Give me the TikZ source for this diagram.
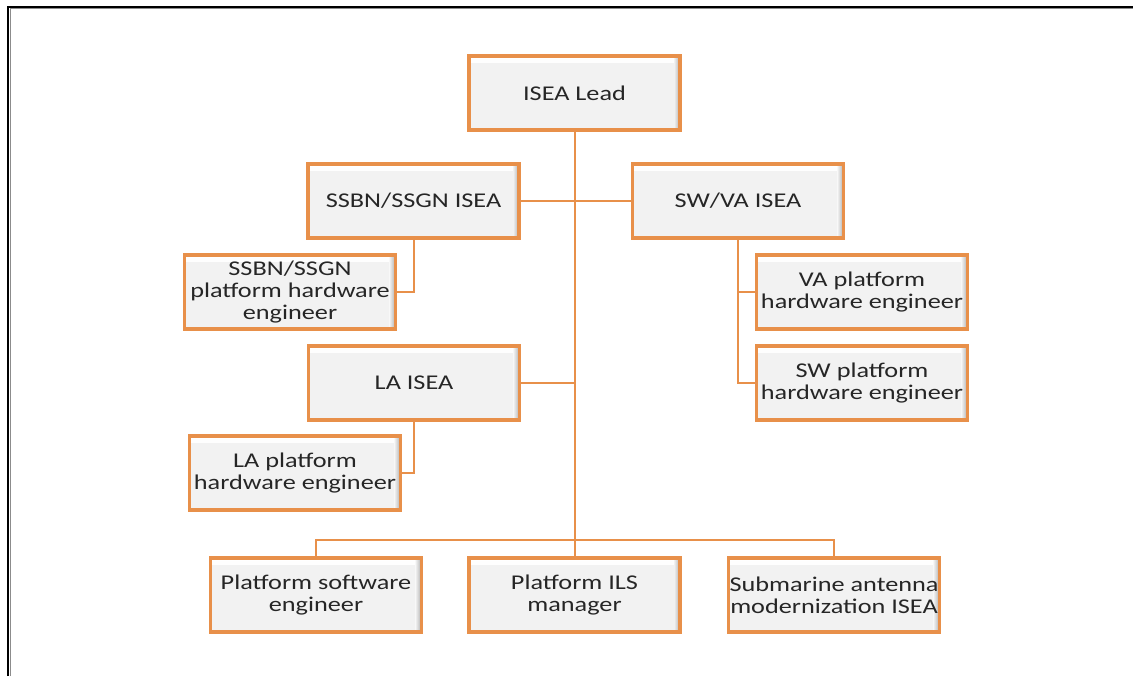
\documentclass[tikz,border=0pt]{standalone}
\usepackage{fontspec}
\setmainfont[FakeStretch=1.25]{Carlito}
\definecolor{boxorange}{HTML}{E8904A}
\definecolor{boxgray}{HTML}{F2F2F2}
\definecolor{boxtext}{HTML}{262626}
\begin{document}
\begin{tikzpicture}[x=0.5pt, y=-0.5pt,
    box/.style={draw=boxorange, line width=1.75pt, fill=boxgray, rectangle,
        minimum width=105.5pt, minimum height=37pt, inner sep=0pt, align=center,
        text=boxtext, font=\fontsize{10.5}{10.8}\selectfont,
        path picture={
            \shade[top color=white, bottom color=boxgray] (path picture bounding box.north west) rectangle ([yshift=-3pt]path picture bounding box.north east);
            \shade[left color=boxgray, right color=black!32] ([xshift=-3pt]path picture bounding box.north east) rectangle (path picture bounding box.south east);
        }},
    link/.style={draw=boxorange, line width=1pt}]
    \useasboundingbox (0, 0) rectangle (1133, 676);
    \draw[black, line width=1pt] (8, 676) -- (8, 6.5) -- (1133, 6.5);
    \draw[black!45, line width=0.5pt] (10, 676) -- (10, 8.5) -- (1133, 8.5);

    \node[box] (lead) at (574.5, 93) {ISEA Lead};
    \node[box] (ssbn) at (413.5, 201) {SSBN/SSGN ISEA};
    \node[box] (swva) at (738, 201) {SW/VA ISEA};
    \node[box] (ssbnhw) at (290, 292) {SSBN/SSGN\\platform hardware\\engineer};
    \node[box] (vahw) at (862, 292) {VA platform\\hardware engineer};
    \node[box] (la) at (414, 383) {LA ISEA};
    \node[box] (swhw) at (862, 383) {SW platform\\hardware engineer};
    \node[box] (lahw) at (295, 473) {LA platform\\hardware engineer};
    \node[box] (psw) at (316, 595) {Platform software\\engineer};
    \node[box] (ils) at (574.5, 595) {Platform ILS\\manager};
    \node[box] (ant) at (834, 595) {Submarine antenna\\modernization ISEA};

    \draw[link] (lead.south) -- (ils.north);
    \draw[link] (ssbn.east) -- (swva.west);
    \draw[link] (la.east) -- (la.east -| lead.south);
    \draw[link] (ssbn.south) |- (ssbnhw.east);
    \draw[link] (la.south) |- (lahw.east);
    \draw[link] (swva.south) |- (vahw.west);
    \draw[link] (swva.south) |- (swhw.west);
    \draw[link] (psw.north) -- ++(0, -16) -| (ant.north);
\end{tikzpicture}
\end{document}
